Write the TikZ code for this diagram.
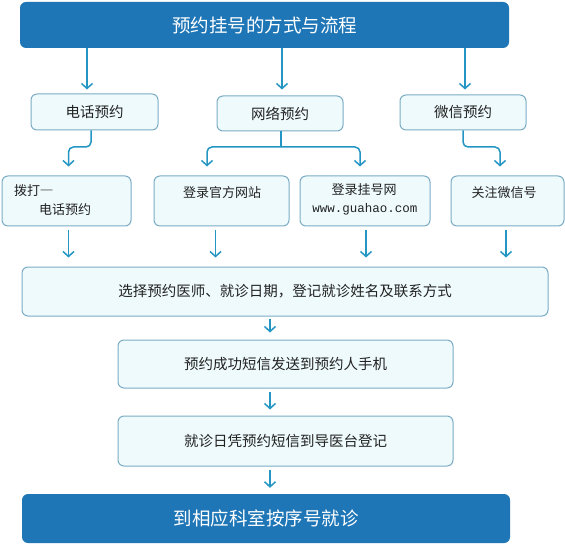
\documentclass[tikz,border=0pt]{standalone}
\usepackage{fontspec}
\setmainfont{Noto Sans CJK SC}
\setmonofont{Liberation Mono}
\usetikzlibrary{arrows.meta}
\definecolor{bannerc}{RGB}{30,118,182}
\definecolor{boxfill}{RGB}{238,250,252}
\definecolor{boxline}{RGB}{122,172,196}
\definecolor{arrowc}{RGB}{35,150,196}
\definecolor{txtc}{RGB}{34,34,34}
\begin{document}
\begin{tikzpicture}[x=1pt,y=-1pt,
  banner/.style={rectangle, rounded corners=6pt, fill=bannerc, text=white,
    font=\fontsize{18.5}{20}\selectfont, inner sep=0pt},
  stepbox/.style={rectangle, rounded corners=6pt, draw=boxline, line width=1pt,
    fill=boxfill, text=txtc, inner sep=0pt, font=\fontsize{14.5}{16}\selectfont},
  smallbox/.style={stepbox, font=\fontsize{13}{15}\selectfont},
  lbl/.style={inner sep=0pt, text=txtc, font=\fontsize{13}{15}\selectfont},
  conn/.style={draw=arrowc, line width=1.5pt},
  arr/.style={conn, -{Straight Barb[length=5pt,width=11pt]}}
]
\useasboundingbox (0,0) rectangle (565,548);
\fill[white] (0,0) rectangle (565,548);

% banners
\node[banner, minimum width=489pt, minimum height=46pt] (title) at (264.5,25) {预约挂号的方式与流程};
\node[banner, minimum width=488pt, minimum height=49pt] (final) at (266,518.5) {到相应科室按序号就诊};

% row 2
\node[stepbox, minimum width=127pt, minimum height=36pt] (phone) at (94.5,112) {电话预约};
\node[stepbox, minimum width=126pt, minimum height=35pt] (web) at (280,113.5) {网络预约};
\node[stepbox, minimum width=126pt, minimum height=35pt] (wechat) at (463,112.5) {微信预约};

% row 3
\node[smallbox, minimum width=129pt, minimum height=50pt] (dial) at (66.5,201) {};
\node[lbl, anchor=west] (dialA) at (14,191) {拨打\textcolor{gray}{一}};
\node[lbl, anchor=west] (dialB) at (39,210) {电话预约};
\node[smallbox, minimum width=135pt, minimum height=50pt] (official) at (221.5,201) {};
\node[lbl] (officialT) at (222,193) {登录官方网站};
\node[smallbox, minimum width=130pt, minimum height=50pt] (guahao) at (365,201) {};
\node[lbl] (guahaoA) at (364,190) {登录挂号网};
\node[lbl, font=\fontsize{12.5}{14}\ttfamily] (guahaoB) at (365,209) {www.guahao.com};
\node[smallbox, minimum width=113pt, minimum height=50pt] (follow) at (507.5,201) {};
\node[lbl] (followT) at (504,193) {关注微信号};

% rows 4-6
\node[stepbox, minimum width=526pt, minimum height=49pt] (select) at (285,291.5) {选择预约医师、就诊日期，登记就诊姓名及联系方式};
\node[stepbox, minimum width=335pt, minimum height=48pt] (sms) at (285.5,364) {预约成功短信发送到预约人手机};
\node[stepbox, minimum width=335pt, minimum height=50pt] (visit) at (285.5,441) {就诊日凭预约短信到导医台登记};

% x positions and junction level
\coordinate (x1) at (87,0);
\coordinate (x2) at (282,0);
\coordinate (x3) at (465,0);
\coordinate (xp) at (91,0);
\coordinate (xd) at (68.5,0);
\coordinate (xw) at (281,0);
\coordinate (xo) at (207,0);
\coordinate (xg) at (360,0);
\coordinate (xc) at (463,0);
\coordinate (xf) at (500,0);
\coordinate (yj) at (0,147);
\coordinate (r1) at (68.5,0);
\coordinate (r2) at (215.5,0);
\coordinate (r3) at (366,0);
\coordinate (r4) at (506,0);
\coordinate (xm) at (270,0);

% title -> row 2
\draw[arr, shorten >=4pt] (title.south -| x1) -- (phone.north -| x1);
\draw[arr, shorten >=6pt] (title.south -| x2) -- (web.north -| x2);
\draw[arr, shorten >=5pt] (title.south -| x3) -- (wechat.north -| x3);

% row 2 -> row 3
\draw[arr, rounded corners=5pt, shorten >=9pt] (phone.south -| xp) |- (xd |- yj) -- (dial.north -| xd);
\draw[conn] (web.south -| xw) -- (xw |- yj);
\draw[arr, rounded corners=5pt, shorten >=9pt] (xw |- yj) -| (official.north -| xo);
\draw[arr, rounded corners=5pt, shorten >=9pt] (xw |- yj) -| (guahao.north -| xg);
\draw[arr, rounded corners=5pt, shorten >=9pt] (wechat.south -| xc) |- (xf |- yj) -- (follow.north -| xf);

% row 3 -> select
\draw[arr, shorten <=4pt, shorten >=9pt] (dial.south -| r1) -- (select.north -| r1);
\draw[arr, shorten <=4pt, shorten >=9pt] (official.south -| r2) -- (select.north -| r2);
\draw[arr, shorten <=4pt, shorten >=9pt] (guahao.south -| r3) -- (select.north -| r3);
\draw[arr, shorten <=4pt, shorten >=9pt] (follow.south -| r4) -- (select.north -| r4);

% vertical chain
\draw[arr, shorten <=2pt, shorten >=7pt] (select.south -| xm) -- (sms.north -| xm);
\draw[arr, shorten <=3pt, shorten >=6pt] (sms.south -| xm) -- (visit.north -| xm);
\draw[arr, shorten <=3pt, shorten >=6pt] (visit.south -| xm) -- (final.north -| xm);
\end{tikzpicture}
\end{document}
